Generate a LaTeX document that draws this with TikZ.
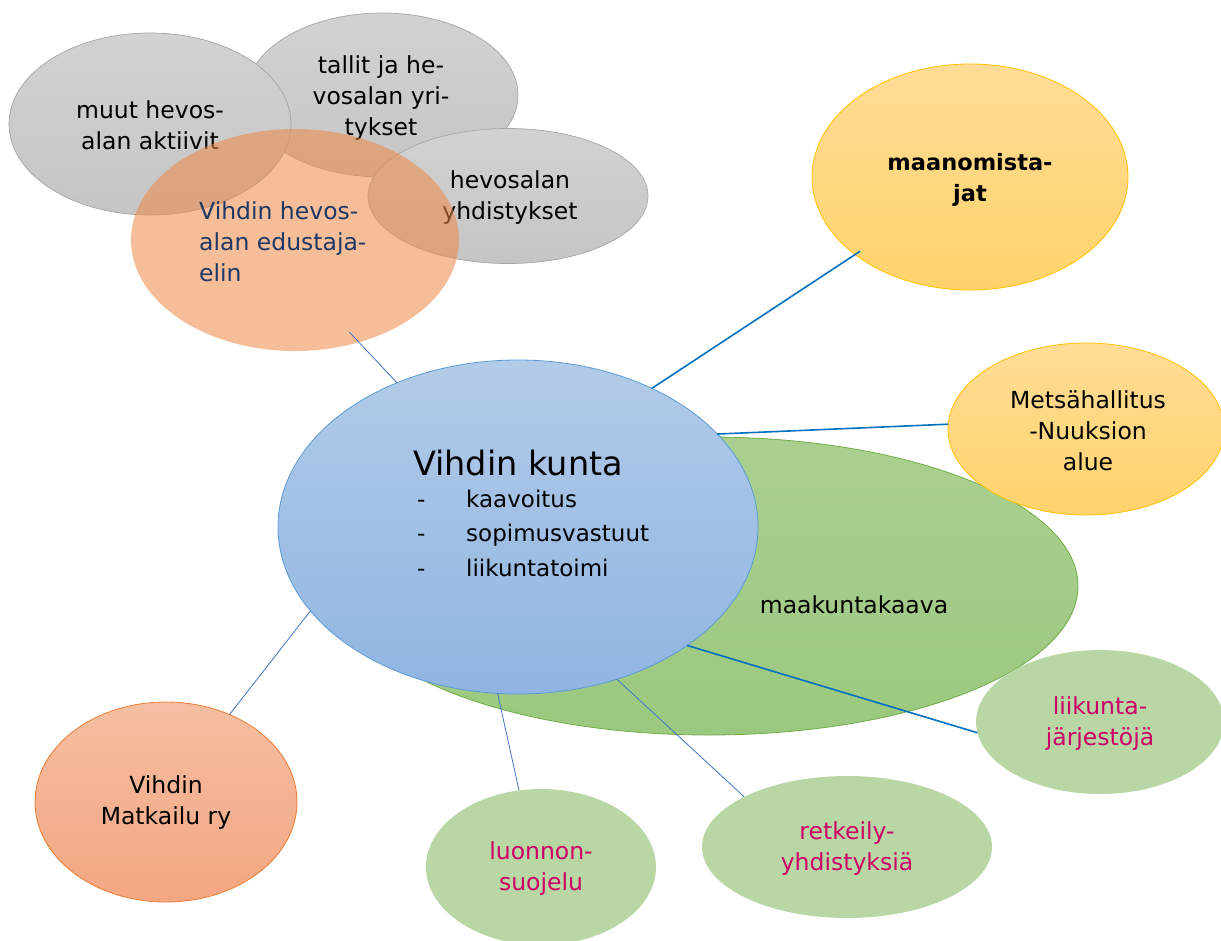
\documentclass[tikz,border=0pt]{standalone}
\usepackage{fontspec}
\setmainfont{DejaVu Sans}
\usetikzlibrary{shapes.geometric}
\definecolor{graytop}{RGB}{210,210,210}
\definecolor{graybot}{RGB}{197,197,197}
\definecolor{grayline}{RGB}{165,165,165}
\definecolor{orangeA}{RGB}{239,137,68}
\definecolor{bluetop}{RGB}{178,203,232}
\definecolor{bluebot}{RGB}{144,181,226}
\definecolor{blueline}{RGB}{91,155,213}
\definecolor{greentop}{RGB}{170,208,144}
\definecolor{greenbot}{RGB}{155,200,127}
\definecolor{greenline}{RGB}{112,173,71}
\definecolor{yeltop}{RGB}{255,220,150}
\definecolor{yelbot}{RGB}{255,211,107}
\definecolor{yelline}{RGB}{255,192,0}
\definecolor{lightgreen}{RGB}{185,215,165}
\definecolor{salmtop}{RGB}{245,190,162}
\definecolor{salmbot}{RGB}{244,166,130}
\definecolor{salmline}{RGB}{237,125,49}
\definecolor{thickline}{RGB}{0,112,192}
\definecolor{thinline}{RGB}{68,114,196}
\definecolor{darkblue}{RGB}{31,56,100}
\definecolor{magentaT}{RGB}{204,0,102}
\tikzset{
  ell/.style={ellipse, inner sep=0pt, outer sep=0pt},
  grayell/.style={ell, draw=grayline, line width=0.7pt, top color=graytop, bottom color=graybot},
  orangeell/.style={ell, fill=orangeA, fill opacity=0.55},
  blueell/.style={ell, draw=blueline, line width=0.8pt, top color=bluetop, bottom color=bluebot},
  greenell/.style={ell, draw=greenline, line width=0.8pt, top color=greentop, bottom color=greenbot},
  yelell/.style={ell, draw=yelline, line width=0.8pt, top color=yeltop, bottom color=yelbot},
  lgell/.style={ell, fill=lightgreen},
  salmell/.style={ell, draw=salmline, line width=0.8pt, top color=salmtop, bottom color=salmbot},
  txt/.style={inner sep=0pt, align=center, font=\fontsize{23.5}{31}\selectfont},
  mtxt/.style={txt, text=magentaT},
  thickconn/.style={draw=thickline, line width=1.6pt},
  thinconn/.style={draw=thinline, line width=0.8pt}
}
\begin{document}
\begin{tikzpicture}[x=1pt,y=-1pt]
\useasboundingbox (0,0) rectangle (1221,940);
% gray horse-sector ellipses
\node[grayell, minimum width=272pt, minimum height=164pt] (tallit) at (382,95) {};
\node[grayell, minimum width=282pt, minimum height=182pt] (muut) at (150,124) {};
\node[grayell, minimum width=280pt, minimum height=135pt] (yhd) at (508,196) {};
\node[txt] (tallitT) at (381,98) {tallit ja he-\\vosalan yri-\\tykset};
\node[txt] (muutT) at (150,125) {muut hevos-\\alan aktiivit};
\node[txt] (yhdT) at (510,198) {hevosalan\\yhdistykset};
% orange representative body
\node[orangeell, minimum width=328pt, minimum height=222pt] (edust) at (295,240) {};
\node[txt, anchor=west, align=left, text=darkblue] (edustT) at (199,242) {Vihdin hevos-\\alan edustaja-\\elin};
% maakuntakaava
\node[greenell, minimum width=738pt, minimum height=298pt] (maak) at (709,586) {};
\node[txt] (maakT) at (854,605) {maakuntakaava};
% Vihdin kunta
\node[blueell, minimum width=480pt, minimum height=334pt] (kunta) at (518,527) {};
\node[inner sep=0pt, font=\fontsize{33.5}{40}\selectfont] (kuntaT) at (518,463) {Vihdin kunta};
\node[inner sep=0pt, anchor=base west, font=\fontsize{23}{34.5}\selectfont] (kuntaL) at (417,507)
  {\begin{tabular}[t]{@{}p{49pt}@{}l@{}}-&kaavoitus\\-&sopimusvastuut\\-&liikuntatoimi\end{tabular}};
% yellow
\node[yelell, minimum width=316pt, minimum height=226pt] (maan) at (970,177) {};
\node[txt, font=\bfseries\fontsize{22.5}{31}\selectfont] (maanT) at (970,180) {maanomista-\\jat};
\node[yelell, minimum width=276pt, minimum height=172pt] (metsa) at (1086,429) {};
\node[txt] (metsaT) at (1088,431) {Metsähallitus\\-Nuuksion\\alue};
% light green satellites
\node[lgell, minimum width=248pt, minimum height=144pt] (liik) at (1100,722) {};
\node[mtxt] (liikT) at (1100,724) {liikunta-\\järjestöjä};
\node[lgell, minimum width=290pt, minimum height=142pt] (retk) at (847,847) {};
\node[mtxt] (retkT) at (847,849) {retkeily-\\yhdistyksiä};
\node[lgell, minimum width=230pt, minimum height=156pt] (luon) at (541,867) {};
\node[mtxt] (luonT) at (541,869) {luonnon-\\suojelu};
% Matkailu
\node[salmell, minimum width=262pt, minimum height=200pt] (matk) at (166,802) {};
\node[txt] (matkT) at (166,803) {Vihdin\\Matkailu ry};
% connectors
\draw[thinconn, shorten <=-14pt] (edust.-58.9) -- (kunta.130.7);
\draw[thickconn, shorten <=-6pt] (maan.214.8) -- (kunta.46.5);
\draw[thickconn] (metsa.178) -- (kunta.25);
\draw[thickconn] (liik.185) -- (kunta.-35.8);
\draw[thinconn] (retk.154.6) -- (kunta.-57.8);
\draw[thinconn] (luon.106.9) -- (kunta.263.6);
\draw[thinconn] (matk.54) -- (kunta.202.1);
\end{tikzpicture}
\end{document}
